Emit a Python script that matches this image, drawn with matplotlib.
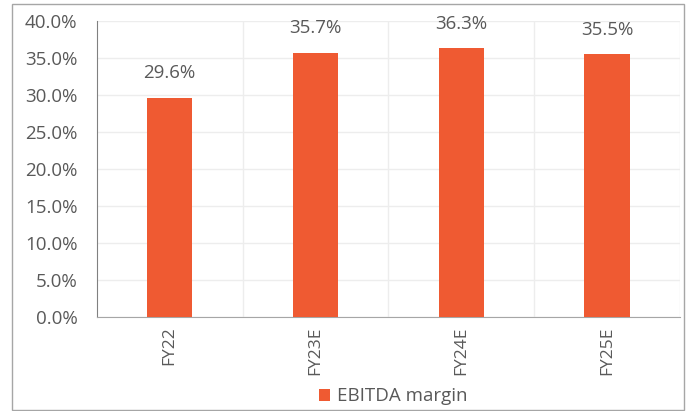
import matplotlib.pyplot as plt
from matplotlib.patches import Rectangle
from matplotlib.ticker import FuncFormatter

# data
categories = ["FY22", "FY23E", "FY24E", "FY25E"]
margin = [29.6, 35.7, 36.3, 35.5]
series_name = "EBITDA margin"

plt.rcParams['font.family'] = ['Open Sans', 'DejaVu Sans']
txt = '#595959'
bar_col = '#EF5A32'
fs = 13.5

fig = plt.figure(figsize=(6.96, 4.11), dpi=100)
ax = fig.add_axes([0.139, 0.229, 0.838, 0.72])

x = range(len(categories))
bars = ax.bar(x, margin, width=0.31, color=bar_col, label=series_name, zorder=3)
for b, v in zip(bars, margin):
	ax.text(b.get_x() + b.get_width()/2, v + 2.1, "%.1f%%" % v,
		ha='center', va='bottom', fontsize=fs, color=txt)

ax.set_xlim(-0.5, len(categories) - 0.5)
ax.set_ylim(0, 40)
ax.set_yticks(range(0, 41, 5))
ax.yaxis.set_major_formatter(FuncFormatter(lambda v, p: "%.1f%%" % v))
ax.set_xticks(list(x))
ax.set_xticklabels(categories, rotation=90)

# vertical gridlines sit at category boundaries
ax.set_xticks([i + 0.5 for i in x], minor=True)
ax.grid(axis='y', color='#EDEDED', lw=1, zorder=0)
ax.grid(axis='x', which='minor', color='#EDEDED', lw=1, zorder=0)

ax.tick_params(axis='both', which='both', length=0, labelsize=fs, labelcolor=txt)
ax.tick_params(axis='x', pad=7, labelsize=12.5)
ax.tick_params(axis='y', pad=14)
for s in ['top', 'right']:
	ax.spines[s].set_visible(False)
ax.spines['left'].set_color('#808080')
ax.spines['bottom'].set_color('#A6A6A6')

leg = fig.legend(loc='center', bbox_to_anchor=(393/696, 0.036), frameon=False,
	fontsize=fs, handlelength=0.6, handleheight=0.6, handletextpad=0.35)
for t in leg.get_texts():
	t.set_color(txt)

# outer chart frame
fig.patches.append(Rectangle((12/696, 0.002), 672/696, 1 - 4/411 - 0.002,
	transform=fig.transFigure, fill=False, edgecolor='#A6A6A6', lw=1))

fig.savefig('out.png', dpi=100)
